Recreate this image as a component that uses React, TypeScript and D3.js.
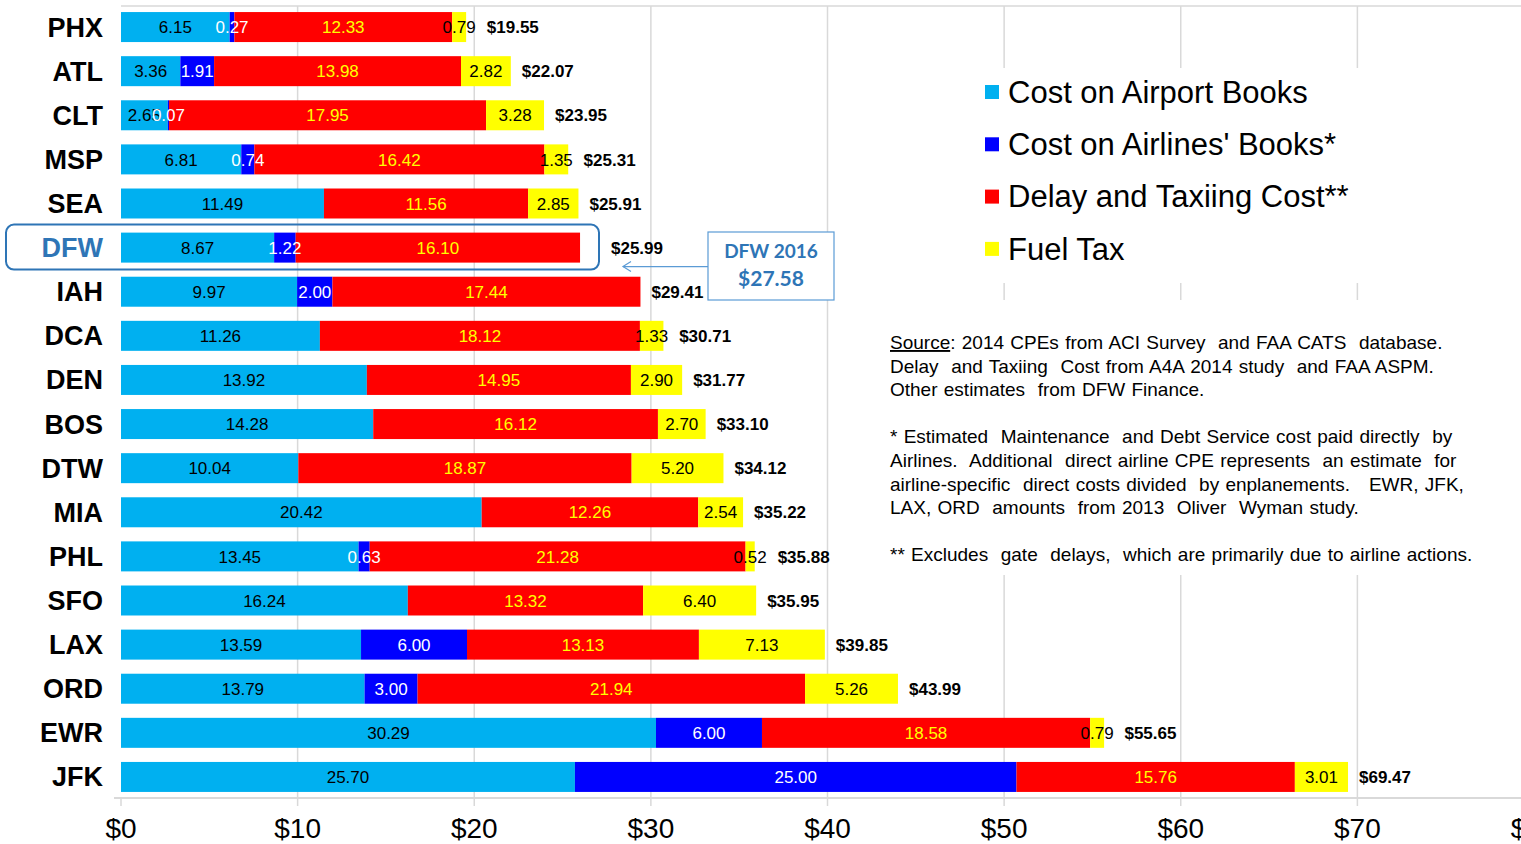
import React, { useEffect, useRef } from "react";
import { select, scaleLinear, scaleBand, stack } from "d3";

// airports, top to bottom
const airports = ["PHX", "ATL", "CLT", "MSP", "SEA", "DFW", "IAH", "DCA", "DEN", "BOS", "DTW", "MIA", "PHL", "SFO", "LAX", "ORD", "EWR", "JFK"];
const airportBooks = [6.15, 3.36, 2.65, 6.81, 11.49, 8.67, 9.97, 11.26, 13.92, 14.28, 10.04, 20.42, 13.45, 16.24, 13.59, 13.79, 30.29, 25.7];
const airlineBooks = [0.27, 1.91, 0.07, 0.74, 0, 1.22, 2.0, 0, 0, 0, 0, 0, 0.63, 0, 6.0, 3.0, 6.0, 25.0];
const delayTaxi = [12.33, 13.98, 17.95, 16.42, 11.56, 16.1, 17.44, 18.12, 14.95, 16.12, 18.87, 12.26, 21.28, 13.32, 13.13, 21.94, 18.58, 15.76];
const fuelTax = [0.79, 2.82, 3.28, 1.35, 2.85, 0, 0, 1.33, 2.9, 2.7, 5.2, 2.54, 0.52, 6.4, 7.13, 5.26, 0.79, 3.01];
const totals = [19.55, 22.07, 23.95, 25.31, 25.91, 25.99, 29.41, 30.71, 31.77, 33.1, 34.12, 35.22, 35.88, 35.95, 39.85, 43.99, 55.65, 69.47];

const keys = ["airport", "airline", "delay", "fuel"];
const seriesNames = ["Cost on Airport Books", "Cost on Airlines' Books*", "Delay and Taxiing Cost**", "Fuel Tax"];
const colors = ["#00B0F0", "#0000FF", "#FF0000", "#FFFF00"];
const labelColors = ["#000000", "#FFFFFF", "#FFFF00", "#000000"];
const xTicks = [0, 10, 20, 30, 40, 50, 60, 70, 80];

const highlight = "DFW";
const calloutLines = ["DFW 2016", "$27.58"];

const notes = [
  ["Source", ": 2014 CPEs from ACI Survey  and FAA CATS  database."],
  ["", "Delay  and Taxiing  Cost from A4A 2014 study  and FAA ASPM."],
  ["", "Other estimates  from DFW Finance."],
  ["", ""],
  ["", "* Estimated  Maintenance  and Debt Service cost paid directly  by"],
  ["", "Airlines.  Additional  direct airline CPE represents  an estimate  for"],
  ["", "airline-specific  direct costs divided  by enplanements.   EWR, JFK,"],
  ["", "LAX, ORD  amounts  from 2013  Oliver  Wyman study."],
  ["", ""],
  ["", "** Excludes  gate  delays,  which are primarily due to airline actions."]
];

const W = 1521;
const H = 844;
const FONT = "'Liberation Sans', Arial, sans-serif";

function App() {
  const svgRef = useRef(null);

  useEffect(() => {
    const svg = select(svgRef.current);
    svg.selectAll("*").remove();

    const data = airports.map((a, i) => ({
      name: a,
      airport: airportBooks[i],
      airline: airlineBooks[i],
      delay: delayTaxi[i],
      fuel: fuelTax[i],
      total: totals[i]
    }));

    const x = scaleLinear().domain([0, 80]).range([121, 1534]);
    const y = scaleBand().domain(airports).range([5, 799]).paddingInner(0.32).paddingOuter(0.16);
    const layers = stack().keys(keys)(data);

    // gridlines
    svg.append("line")
      .attr("x1", x(0)).attr("x2", W).attr("y1", 6).attr("y2", 6)
      .attr("stroke", "#D9D9D9").attr("stroke-width", 1.5);
    svg.append("g")
      .selectAll("line")
      .data(xTicks.slice(1))
      .join("line")
      .attr("x1", (d) => x(d)).attr("x2", (d) => x(d))
      .attr("y1", 6).attr("y2", 806)
      .attr("stroke", "#D9D9D9").attr("stroke-width", 1.5);

    // white boxes behind legend and notes
    svg.append("rect").attr("x", 975).attr("y", 68).attr("width", 395).attr("height", 215).attr("fill", "#fff");
    svg.append("rect").attr("x", 880).attr("y", 300).attr("width", 610).attr("height", 275).attr("fill", "#fff");

    // axis
    svg.append("line")
      .attr("x1", 114).attr("x2", W).attr("y1", 798).attr("y2", 798)
      .attr("stroke", "#D9D9D9").attr("stroke-width", 2);
    svg.append("line")
      .attr("x1", x(0)).attr("x2", x(0)).attr("y1", 798).attr("y2", 806)
      .attr("stroke", "#D9D9D9").attr("stroke-width", 1.5);
    svg.append("g")
      .selectAll("text")
      .data(xTicks)
      .join("text")
      .attr("x", (d) => x(d))
      .attr("y", 838)
      .attr("text-anchor", "middle")
      .style("font-family", FONT)
      .style("font-size", "28px")
      .text((d) => `$${d}`);

    // bars
    const layerG = svg.append("g")
      .selectAll("g")
      .data(layers)
      .join("g")
      .attr("fill", (layer, i) => colors[i]);
    layerG.selectAll("rect")
      .data((layer) => layer.filter((s) => s[1] - s[0] > 0))
      .join("rect")
      .attr("x", (s) => x(s[0]))
      .attr("width", (s) => x(s[1]) - x(s[0]))
      .attr("y", (s) => y(s.data.name))
      .attr("height", y.bandwidth());

    // segment labels
    layers.forEach((layer, i) => {
      svg.append("g")
        .selectAll("text")
        .data(layer.filter((s) => s[1] - s[0] > 0))
        .join("text")
        .attr("x", (s) => x((s[0] + s[1]) / 2))
        .attr("y", (s) => y(s.data.name) + y.bandwidth() / 2)
        .attr("dy", "0.36em")
        .attr("text-anchor", "middle")
        .attr("fill", labelColors[i])
        .style("font-family", FONT)
        .style("font-size", "17px")
        .text((s) => (s[1] - s[0]).toFixed(2));
    });

    // DFW highlight box geometry
    const hy = y(highlight) + y.bandwidth() / 2;
    const boxRight = 599;

    // totals, pushed past an overflowing fuel label (and past the DFW box)
    svg.append("g")
      .selectAll("text")
      .data(data)
      .join("text")
      .attr("x", (d) => {
        const end = x(d.airport + d.airline + d.delay + d.fuel);
        const fuelRight = d.fuel > 0 ? x(d.total - d.fuel / 2) + 16.5 : 0;
        const box = d.name === highlight ? boxRight + 1 : 0;
        return Math.max(end, fuelRight, box) + 11;
      })
      .attr("y", (d) => y(d.name) + y.bandwidth() / 2)
      .attr("dy", "0.36em")
      .style("font-family", FONT)
      .style("font-size", "17px")
      .style("font-weight", "bold")
      .text((d) => `$${d.total.toFixed(2)}`);

    // category labels
    svg.append("g")
      .selectAll("text")
      .data(airports)
      .join("text")
      .attr("x", 103)
      .attr("y", (d) => y(d) + y.bandwidth() / 2)
      .attr("dy", "0.35em")
      .attr("text-anchor", "end")
      .attr("fill", (d) => (d === highlight ? "#2E75B6" : "#000"))
      .style("font-family", FONT)
      .style("font-size", "27px")
      .style("font-weight", "bold")
      .text((d) => d);

    svg.append("rect")
      .attr("x", 6).attr("y", hy - 23).attr("width", boxRight - 6).attr("height", 45)
      .attr("rx", 8)
      .attr("fill", "none").attr("stroke", "#2E75B6").attr("stroke-width", 2);

    // callout
    const cx = 708;
    svg.append("line")
      .attr("x1", cx).attr("x2", 623).attr("y1", hy + 19).attr("y2", hy + 19)
      .attr("stroke", "#5B9BD5").attr("stroke-width", 1.2);
    svg.append("path")
      .attr("d", `M631,${hy + 14} L623,${hy + 19} L631,${hy + 24}`)
      .attr("fill", "none").attr("stroke", "#5B9BD5").attr("stroke-width", 1.2);
    svg.append("rect")
      .attr("x", cx).attr("y", 232).attr("width", 126).attr("height", 68)
      .attr("fill", "#fff").attr("stroke", "#5B9BD5").attr("stroke-width", 1.2);
    svg.append("g")
      .selectAll("text")
      .data(calloutLines)
      .join("text")
      .attr("x", cx + 63)
      .attr("y", (d, i) => 258 + i * 28)
      .attr("text-anchor", "middle")
      .attr("fill", "#2E75B6")
      .style("font-family", "Lato, 'Open Sans', sans-serif")
      .style("font-weight", "bold")
      .style("font-size", (d, i) => (i === 0 ? "19px" : "21px"))
      .text((d) => d);

    // legend
    const lg = svg.append("g")
      .selectAll("g")
      .data(seriesNames)
      .join("g")
      .attr("transform", (d, i) => `translate(985, ${92 + i * 52.3})`);
    lg.append("rect")
      .attr("x", 0).attr("y", -7).attr("width", 14).attr("height", 14)
      .attr("fill", (d, i) => colors[i]);
    lg.append("text")
      .attr("x", 23)
      .attr("dy", "0.35em")
      .style("font-family", FONT)
      .style("font-size", "31px")
      .text((d) => d);

    // notes
    const nt = svg.append("g")
      .selectAll("text")
      .data(notes)
      .join("text")
      .attr("x", 890)
      .attr("y", (d, i) => 349 + i * 23.6)
      .style("font-family", FONT)
      .style("font-size", "19px")
      .style("word-spacing", "1px")
      .style("white-space", "pre");
    nt.append("tspan")
      .style("text-decoration", "underline")
      .text((d) => d[0]);
    nt.append("tspan").text((d) => d[1]);
  }, []);

  return (
    <svg
      ref={svgRef}
      width={W}
      height={H}
      style={{ position: "absolute", left: 0, top: 0, display: "block", background: "#fff" }}
    />
  );
}

export default App;
